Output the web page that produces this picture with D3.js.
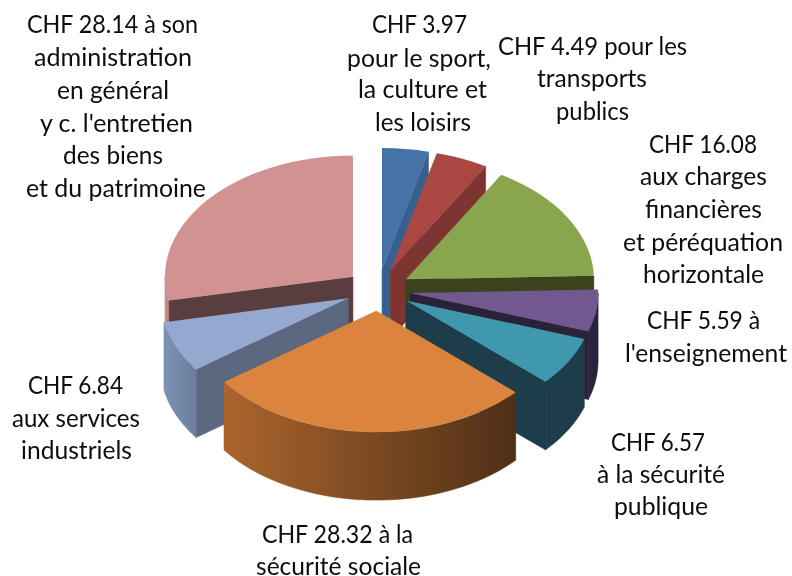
<!DOCTYPE html>
<html>
<head>
<meta charset="utf-8">
<script src="https://cdn.jsdelivr.net/npm/d3@7"></script>
<style>
  html, body { margin: 0; padding: 0; background: #fff; }
  text { font-family: Lato, "Open Sans", sans-serif; font-size: 24.5px; fill: #0c0c0c; }
</style>
</head>
<body>
<div id="chart"></div>
<script>
// Share of each franc, clockwise from the top
const categories = ["sport", "transports", "charges", "enseignement", "securitePublique", "securiteSociale", "services", "administration"];
const values = [3.97, 4.49, 16.08, 5.59, 6.57, 28.32, 6.84, 28.14];
const labelLines = [
  ["CHF 3.97", "pour le sport,", "la culture et", "les loisirs"],
  ["CHF 4.49 pour les", "transports", "publics"],
  ["CHF 16.08", "aux charges", "financières", "et péréquation", "horizontale"],
  ["CHF 5.59 à", "l'enseignement"],
  ["CHF 6.57", "à la sécurité", "publique"],
  ["CHF 28.32 à la", "sécurité sociale"],
  ["CHF 6.84", "aux services", "industriels"],
  ["CHF 28.14 à son", "administration", "en général", "y c. l'entretien", "des biens", "et du patrimoine"]
];

// Styling, same order as categories
const topColors = ["#4572a7", "#aa4643", "#89a54e", "#71588f", "#4198af", "#db843d", "#93a9cf", "#d19392"];
const radialColors = ["#38618f", "#7d3533", "#3a421f", "#2c2238", "#1a3d4a", "#55321a", "#5b6880", "#5a3d3e"];
const wallColors = [
  ["#38618f", "#38618f"], ["#7d3533", "#7d3533"], ["#3a421f", "#3a421f"], ["#2f2540", "#2a2035"],
  ["#1a3d4a", "#1a3d4a"], ["#ab652d", "#4f2f18"], ["#7d93b5", "#6b7d9c"], ["#c79190", "#b98483"]
];

// Label placement per line: left edge, right edge, baseline
const lineLeft = [
  [372, 347, 358, 375],
  [498, 537, 556],
  [649, 640, 645, 623, 643],
  [647, 625],
  [611, 597, 614],
  [262, 256],
  [28, 12, 21],
  [27, 34, 57, 40, 63, 26]
];
const lineRight = [
  [467, 491, 487, 471],
  [687, 647, 629],
  [757, 767, 762, 783, 764],
  [760, 787],
  [705, 725, 708],
  [413, 421],
  [123, 140, 132],
  [198, 192, 169, 193, 163, 206]
];
const lineBase = [
  [33, 67, 98, 131],
  [55, 87, 120],
  [153, 185, 218, 251, 283],
  [329, 362],
  [451, 483, 515],
  [543, 575],
  [394, 427, 459],
  [33, 66, 99, 132, 164, 197]
];

const width = 792, height = 576;
const cx = 378, cy = 290;      // pie centre on screen
const radius = 188, tilt = 0.645, depth = 68, explode = 32.4;

const svg = d3.select("#chart").append("svg")
  .attr("width", width)
  .attr("height", height);

const defs = svg.append("defs");
defs.append("filter").attr("id", "soft")
  .append("feGaussianBlur").attr("stdDeviation", 0.45);

const pie = d3.pie().sort(null).startAngle(0).endAngle(2 * Math.PI);
const slices = pie(values);

const arc = d3.arc().innerRadius(0).outerRadius(radius);

// Flat pie coordinates to screen
const sx = d3.scaleLinear().domain([-1, 1]).range([-radius, radius]);
const sy = d3.scaleLinear().domain([-1, 1]).range([-radius * tilt, radius * tilt]);

const g = svg.append("g").attr("filter", "url(#soft)");

// Back to front: the pieces at the viewer's side go last
const drawOrder = [7, 0, 1, 2, 3, 4, 6, 5];

drawOrder.forEach(i => {
  const s = slices[i];
  const mid = (s.startAngle + s.endAngle) / 2;
  const ox = cx + explode * Math.sin(mid);
  const oy = cy - explode * tilt * Math.cos(mid);
  const px = a => ox + sx(Math.sin(a));
  const py = a => oy + sy(-Math.cos(a));
  const piece = g.append("g").attr("class", "slice " + categories[i]);

  // Straight cut faces, only when they turn towards the viewer
  const radial = a => {
    const p = d3.path();
    p.moveTo(ox, oy);
    p.lineTo(px(a), py(a));
    p.lineTo(px(a), py(a) + depth);
    p.lineTo(ox, oy + depth);
    p.closePath();
    piece.append("path").attr("d", p.toString())
      .attr("fill", radialColors[i])
      .attr("stroke", radialColors[i])
      .attr("stroke-width", 0.6);
  };
  if (Math.sin(s.startAngle) < -1e-6) radial(s.startAngle);
  if (Math.sin(s.endAngle) > 1e-6) radial(s.endAngle);

  // Rim, front half of the ellipse only
  const a0 = Math.max(s.startAngle, Math.PI / 2);
  const a1 = Math.min(s.endAngle, 3 * Math.PI / 2);
  if (a1 > a0) {
    const steps = d3.range(0, 41).map(t => a0 + (a1 - a0) * t / 40);
    const rim = d3.line()(
      steps.map(a => [px(a), py(a)])
        .concat(steps.slice().reverse().map(a => [px(a), py(a) + depth]))
    ) + "Z";
    const xs = d3.extent(steps, px);
    const gradId = "rim" + i;
    const grad = defs.append("linearGradient").attr("id", gradId)
      .attr("gradientUnits", "userSpaceOnUse")
      .attr("x1", xs[0]).attr("x2", xs[1]).attr("y1", 0).attr("y2", 0);
    grad.append("stop").attr("offset", 0).attr("stop-color", wallColors[i][0]);
    grad.append("stop").attr("offset", 1).attr("stop-color", wallColors[i][1]);
    piece.append("path").attr("d", rim)
      .attr("fill", `url(#${gradId})`)
      .attr("stroke", `url(#${gradId})`)
      .attr("stroke-width", 0.6);
  }

  // Top face
  piece.append("path")
    .attr("d", arc(s))
    .attr("transform", `translate(${ox},${oy}) scale(1,${tilt})`)
    .attr("fill", topColors[i]);
});

// Labels, squeezed to the width each line has in the reference
const labels = svg.append("g").attr("filter", "url(#soft)");
labelLines.forEach((lines, i) => {
  lines.forEach((line, j) => {
    labels.append("text")
      .attr("x", lineLeft[i][j])
      .attr("y", lineBase[i][j])
      .attr("textLength", lineRight[i][j] - lineLeft[i][j])
      .attr("lengthAdjust", "spacingAndGlyphs")
      .text(line);
  });
});
</script>
</body>
</html>
